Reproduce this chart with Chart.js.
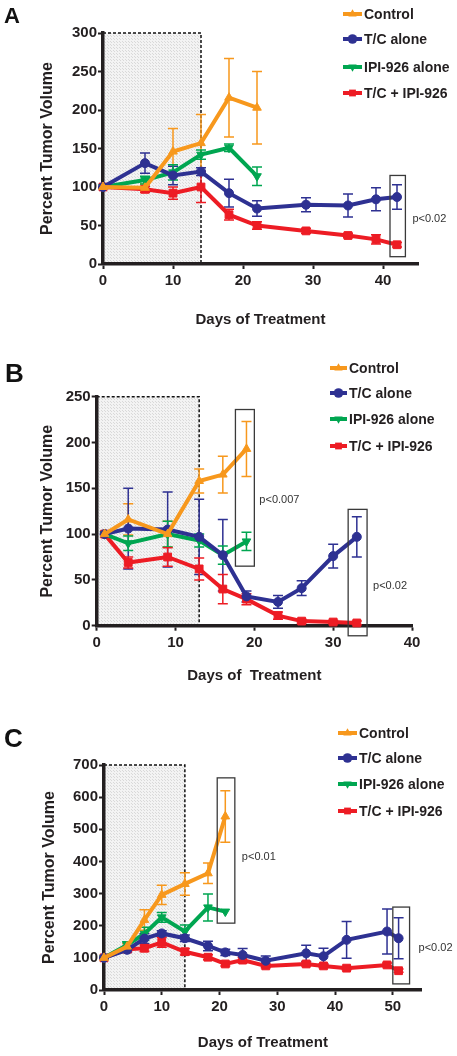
<!DOCTYPE html>
<html>
<head>
<meta charset="utf-8">
<script src="https://cdn.jsdelivr.net/npm/chart.js@4.4.1/dist/chart.umd.min.js"></script>
<style>
html, body { margin: 0; padding: 0; background: #fff; }
#wrap { position: relative; width: 457px; height: 1056px; }
canvas { position: absolute; left: 0; }
</style>
</head>
<body>
<div id="wrap">
<canvas id="chartA" width="457" height="330" style="top:0"></canvas>
<canvas id="chartB" width="457" height="360" style="top:330px"></canvas>
<canvas id="chartC" width="457" height="366" style="top:690px"></canvas>
</div>
<script>
// ---- data ----
var seriesLabels = ["Control", "T/C alone", "IPI-926 alone", "T/C + IPI-926"];

// panel A
var daysA_short = [0, 6, 10, 14, 18, 22];
var daysA_long = [0, 6, 10, 14, 18, 22, 29, 35, 39, 42];
var ctrlA = [100, 99, 146, 157, 216, 203];
var ctrlErrA = [0, 5, 30, 37, 51, 47];
var tcA = [100, 131, 115, 120, 92, 72, 77, 76, 84, 87];
var tcErrA = [0, 13, 12, 5, 18, 10, 9, 15, 15, 16];
var ipiA = [100, 109, 119, 142, 151, 114];
var ipiErrA = [0, 5, 10, 6, 5, 12];
var comboA = [100, 97, 92, 100, 64, 50, 43, 37, 32, 25];
var comboErrA = [0, 4, 8, 20, 7, 5, 3, 3, 6, 3];

// panel B
var daysB_short = [1, 4, 9, 13, 16, 19];
var daysB_long = [1, 4, 9, 13, 16, 19, 23, 26, 30, 33];
var ctrlB = [100, 116, 100, 158, 165, 193];
var ctrlErrB = [0, 17, 14, 13, 20, 30];
var tcB = [100, 106, 105, 97, 77, 32, 26, 41, 76, 97];
var tcErrB = [0, 44, 41, 41, 39, 6, 7, 8, 13, 22];
var ipiB = [100, 90, 100, 93, 77, 92];
var ipiErrB = [0, 8, 14, 7, 10, 10];
var comboB = [100, 69, 75, 62, 40, 29, 11, 5, 4, 3];
var comboErrB = [0, 6, 10, 12, 16, 6, 4, 2, 2, 2];

// panel C
var daysC_short = [0, 4, 7, 10, 14, 18, 21];
var daysC_long = [0, 4, 7, 10, 14, 18, 21, 24, 28, 35, 38, 42, 49, 51];
var ctrlC = [100, 135, 218, 296, 330, 363, 540];
var ctrlErrC = [0, 10, 32, 30, 35, 32, 80];
var tcC = [100, 125, 160, 176, 161, 137, 117, 109, 91, 114, 105, 156, 182, 161];
var tcErrC = [0, 8, 15, 8, 10, 15, 10, 20, 15, 25, 25, 57, 70, 64];
var ipiC = [100, 140, 175, 226, 182, 257, 244];
var ipiErrC = [0, 10, 20, 15, 20, 42, 0];
var comboC = [100, 127, 130, 148, 119, 102, 81, 93, 75, 81, 75, 68, 78, 60];
var comboErrC = [0, 8, 10, 15, 10, 8, 6, 8, 6, 6, 6, 5, 6, 5];

// ---- styles ----
var seriesStyles = [
    { color: "#f7981d", pointStyle: "triangle", rotation: 0, radius: 5 },
    { color: "#2e3192", pointStyle: "circle", rotation: 0, radius: 4.5 },
    { color: "#00a651", pointStyle: "triangle", rotation: 180, radius: 5 },
    { color: "#ed1c24", pointStyle: "rect", rotation: 0, radius: 5.5 }
];

var FONT = '"Liberation Sans", Arial, Helvetica, sans-serif';
Chart.defaults.font.family = FONT;
Chart.defaults.color = "#231f20";

// stippled grey for the pre-treatment window
var stipple = (function () {
    var c = document.createElement("canvas");
    c.width = 3; c.height = 3;
    var g = c.getContext("2d");
    g.fillStyle = "#f3f3f3";
    g.fillRect(0, 0, 3, 3);
    g.fillStyle = "#d9d9d9";
    g.fillRect(0, 0, 1, 1);
    g.fillRect(2, 2, 1, 1);
    return g.createPattern(c, "repeat");
})();

var panelDecor = {
    id: "panelDecor",

    beforeDraw: function (chart, args, opts) {
        var ctx = chart.ctx, x = chart.scales.x, y = chart.scales.y;
        var l = x.getPixelForValue(0), r = x.getPixelForValue(opts.shadeTo);
        var t = y.getPixelForValue(y.max), b = y.getPixelForValue(0);
        ctx.save();
        ctx.fillStyle = stipple;
        ctx.fillRect(l, t, r - l, b - t);
        ctx.strokeStyle = "#111";
        ctx.lineWidth = 1.5;
        ctx.setLineDash([3, 2]);
        ctx.beginPath();
        ctx.moveTo(l, t);
        ctx.lineTo(r, t);
        ctx.lineTo(r, b);
        ctx.stroke();
        ctx.restore();
    },

    beforeDatasetsDraw: function (chart) {
        var ctx = chart.ctx, y = chart.scales.y;
        chart.data.datasets.forEach(function (ds, di) {
            var meta = chart.getDatasetMeta(di);
            ctx.save();
            ctx.strokeStyle = ds.borderColor;
            ctx.lineWidth = 1.5;
            meta.data.forEach(function (pt, i) {
                var e = ds.errors[i];
                if (!e) return;
                var v = ds.data[i].y;
                var yt = y.getPixelForValue(v + e), yb = y.getPixelForValue(v - e);
                ctx.beginPath();
                ctx.moveTo(pt.x, yt); ctx.lineTo(pt.x, yb);
                ctx.moveTo(pt.x - 5, yt); ctx.lineTo(pt.x + 5, yt);
                ctx.moveTo(pt.x - 5, yb); ctx.lineTo(pt.x + 5, yb);
                ctx.stroke();
            });
            ctx.restore();
        });
    },

    afterDatasetsDraw: function (chart, args, opts) {
        var ctx = chart.ctx, x = chart.scales.x, y = chart.scales.y;
        ctx.save();
        opts.boxes.forEach(function (bx) {
            var l = x.getPixelForValue(bx.x0), r = x.getPixelForValue(bx.x1);
            var t = y.getPixelForValue(bx.y1), b = y.getPixelForValue(bx.y0);
            ctx.strokeStyle = "#3a3a3a";
            ctx.lineWidth = 1.3;
            ctx.strokeRect(l, t, r - l, b - t);
            ctx.fillStyle = "#333";
            ctx.font = "11px " + FONT;
            ctx.textAlign = "left";
            ctx.textBaseline = "middle";
            ctx.fillText(bx.label, r + bx.dx, y.getPixelForValue(bx.labelY));
        });
        ctx.restore();
    },

    afterDraw: function (chart, args, opts) {
        var ctx = chart.ctx;
        ctx.save();
        // panel letter
        ctx.fillStyle = "#111";
        ctx.font = "bold " + opts.letterSize + "px " + FONT;
        ctx.textAlign = "left";
        ctx.textBaseline = "alphabetic";
        ctx.fillText(opts.letter, opts.letterX, opts.letterY);
        // legend
        var lg = opts.legend;
        chart.data.datasets.forEach(function (ds, i) {
            var st = seriesStyles[i], yy = lg.rows[i];
            ctx.strokeStyle = st.color;
            ctx.fillStyle = st.color;
            ctx.lineWidth = 4;
            ctx.beginPath();
            ctx.moveTo(lg.x0, yy);
            ctx.lineTo(lg.x1, yy);
            ctx.stroke();
            Chart.helpers.drawPoint(ctx, {
                pointStyle: st.pointStyle, rotation: st.rotation,
                radius: 4.8, borderWidth: 0
            }, (lg.x0 + lg.x1) / 2, yy);
            ctx.fillStyle = "#231f20";
            ctx.font = "bold 14px " + FONT;
            ctx.textBaseline = "middle";
            ctx.fillText(ds.label, lg.tx, yy + 1);
        });
        ctx.restore();
    }
};

function makeSeries(days, vals, errs, i) {
    var st = seriesStyles[i];
    return {
        label: seriesLabels[i],
        data: days.map(function (d, k) { return { x: d, y: vals[k] }; }),
        errors: errs,
        borderColor: st.color,
        backgroundColor: st.color,
        borderWidth: 4,
        pointStyle: st.pointStyle,
        rotation: st.rotation,
        pointRadius: st.radius,
        pointBorderWidth: 1,
        tension: 0,
        clip: false
    };
}

function makePanel(id, p) {
    new Chart(document.getElementById(id), {
        type: "line",
        data: { datasets: p.series },
        plugins: [panelDecor],
        options: {
            responsive: false,
            animation: false,
            events: [],
            layout: { padding: { left: 0, top: p.top, right: p.right, bottom: 0 } },
            scales: {
                x: {
                    type: "linear",
                    min: 0,
                    max: p.xMax,
                    ticks: { stepSize: 10, padding: 3, font: { size: 15, weight: "bold" }, color: "#231f20" },
                    afterBuildTicks: function (s) {
                        s.ticks = s.ticks.filter(function (t) { return t.value % 10 === 0; });
                    },
                    afterFit: function (s) { s.height = p.xHeight; },
                    grid: { drawOnChartArea: false, color: "#231f20", tickLength: 5, tickWidth: 2 },
                    border: { color: "#231f20", width: 3.5 },
                    title: {
                        display: true, text: p.xTitle, color: "#231f20",
                        font: { size: 15, weight: "bold" },
                        padding: { top: 0, bottom: p.xTitlePad }
                    }
                },
                y: {
                    min: 0,
                    max: p.yMax,
                    ticks: { stepSize: p.yStep, padding: 1, font: { size: 15, weight: "bold" }, color: "#231f20" },
                    afterFit: function (s) { s.width = p.yWidth; },
                    grid: { drawOnChartArea: false, color: "#231f20", tickLength: 5, tickWidth: 2 },
                    border: { color: "#231f20", width: 3.5 },
                    title: {
                        display: true, text: "Percent Tumor Volume", color: "#231f20",
                        font: { size: 16, weight: "bold" },
                        padding: { top: p.yTitlePad, bottom: 0 }
                    }
                }
            },
            plugins: {
                legend: { display: false },
                tooltip: { enabled: false },
                panelDecor: {
                    shadeTo: p.shadeTo,
                    boxes: p.boxes,
                    letter: p.letter, letterX: p.letterX, letterY: p.letterY, letterSize: p.letterSize,
                    legend: p.legend
                }
            }
        }
    });
}

// PANEL A
makePanel("chartA", {
    series: [
        makeSeries(daysA_short, ctrlA, ctrlErrA, 0),
        makeSeries(daysA_long, tcA, tcErrA, 1),
        makeSeries(daysA_short, ipiA, ipiErrA, 2),
        makeSeries(daysA_long, comboA, comboErrA, 3)
    ],
    xMax: 45, yMax: 300, yStep: 50, shadeTo: 14,
    top: 33, right: 39, yWidth: 103, xHeight: 66,
    yTitlePad: 38, xTitlePad: 1, xTitle: "Days of Treatment",
    boxes: [{ x0: 41, x1: 43.2, y0: 9.5, y1: 115, label: "p<0.02", labelY: 59, dx: 7 }],
    letter: "A", letterX: 4, letterY: 23, letterSize: 22,
    legend: { x0: 343, x1: 362, tx: 364, rows: [14, 39, 67, 93] }
});

// PANEL B
makePanel("chartB", {
    series: [
        makeSeries(daysB_short, ctrlB, ctrlErrB, 0),
        makeSeries(daysB_long, tcB, tcErrB, 1),
        makeSeries(daysB_short, ipiB, ipiErrB, 2),
        makeSeries(daysB_long, comboB, comboErrB, 3)
    ],
    xMax: 40, yMax: 250, yStep: 50, shadeTo: 13,
    top: 66.7, right: 45, yWidth: 96.7, xHeight: 64.3,
    yTitlePad: 38, xTitlePad: 5, xTitle: "Days of  Treatment",
    boxes: [
        { x0: 17.6, x1: 20, y0: 65, y1: 236, label: "p<0.007", labelY: 137, dx: 5 },
        { x0: 31.9, x1: 34.3, y0: -11, y1: 127, label: "p<0.02", labelY: 43, dx: 6 }
    ],
    letter: "B", letterX: 5, letterY: 52, letterSize: 26,
    legend: { x0: 330, x1: 347, tx: 349, rows: [38, 63, 89, 116] }
});

// PANEL C
makePanel("chartC", {
    series: [
        makeSeries(daysC_short, ctrlC, ctrlErrC, 0),
        makeSeries(daysC_long, tcC, tcErrC, 1),
        makeSeries(daysC_short, ipiC, ipiErrC, 2),
        makeSeries(daysC_long, comboC, comboErrC, 3)
    ],
    xMax: 55, yMax: 700, yStep: 100, shadeTo: 14,
    top: 75, right: 35.3, yWidth: 104, xHeight: 66,
    yTitlePad: 40, xTitlePad: 4, xTitle: "Days of Treatment",
    boxes: [
        { x0: 19.6, x1: 22.65, y0: 208, y1: 660, label: "p<0.01", labelY: 415, dx: 7 },
        { x0: 50, x1: 52.9, y0: 19, y1: 258, label: "p<0.02", labelY: 132, dx: 9 }
    ],
    letter: "C", letterX: 4, letterY: 57, letterSize: 26,
    legend: { x0: 338, x1: 357, tx: 359, rows: [43, 68, 94, 121] }
});
</script>
</body>
</html>
